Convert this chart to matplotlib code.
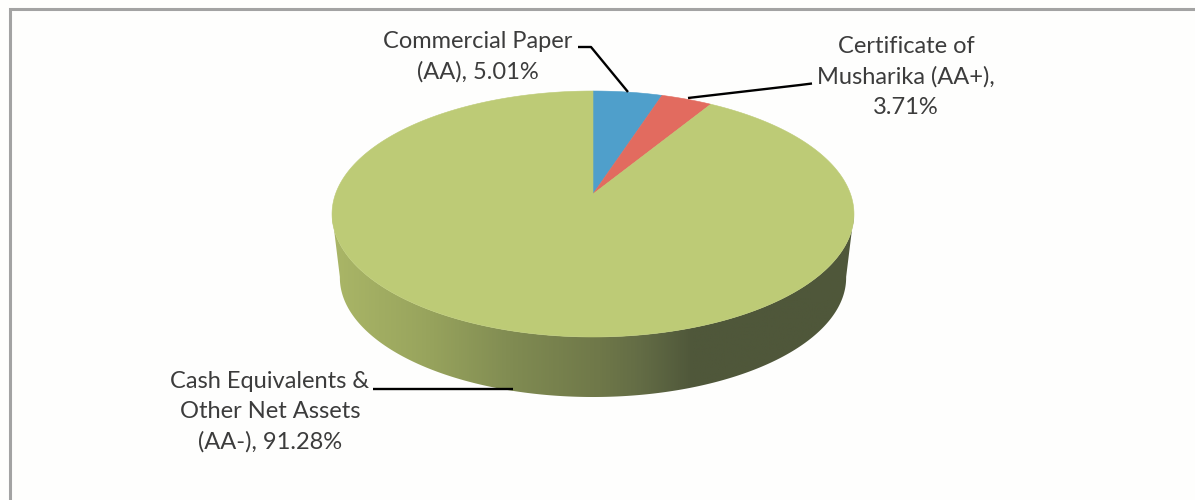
import numpy as np
import matplotlib
matplotlib.use('Agg')
import matplotlib.pyplot as plt
from matplotlib.colors import LinearSegmentedColormap
from matplotlib.patches import Polygon

plt.rcParams['font.family'] = ['Lato', 'DejaVu Sans']

#portfolio shares in %
labels = ['Commercial Paper\n(AA), 5.01%',
          'Certificate of\nMusharika (AA+),\n3.71%',
          'Cash Equivalents &\nOther Net Assets\n(AA-), 91.28%']
shares = [5.01, 3.71, 91.28]
colors = ['#4f9fcb', '#e26b5f', '#bdcb76']

#pie geometry in pixels, top face seen in perspective
cx = 593
apex_y = 194
half_w = 257.5
tilt = 0.1626
far = -88.2
#bottom face is a bit smaller and lower
bottom_scale = 0.97
bottom_mid = 277.7
top_mid = 214

bg = '#fefefd'


def top_face(theta):
    #theta is clockwise from 12 o'clock, radians
    u, v = np.sin(theta), np.cos(theta)
    w = 1 + tilt * v
    return cx + half_w * u / w, (apex_y + far * v) / w


def bottom_face(theta):
    x, y = top_face(theta)
    return cx + (x - cx) * bottom_scale, bottom_mid + (y - top_mid) * bottom_scale


fig = plt.figure(figsize=(11.95, 5), dpi=100, facecolor=bg)
ax = fig.add_axes([0, 0, 1, 1])
ax.set_xlim(0, 1195)
ax.set_ylim(500, 0)
ax.axis('off')

#frame, only left and top are visible
ax.plot([10, 10, 1195], [500, 9, 9], color='#a3a3a3', lw=2.2, solid_joinstyle='miter', zorder=1)

#side of the pie, shaded from left to right
front = np.linspace(np.pi * 0.55, np.pi * 1.45, 300)
tx, ty = top_face(front)
bx, by = bottom_face(front)
side = Polygon(np.r_[np.c_[tx, ty], np.c_[bx, by][::-1]], closed=True, fc='none', ec='none')
ax.add_patch(side)
shade = LinearSegmentedColormap.from_list('side', [
    (0.0, '#aab667'), (0.18, '#98a45d'), (0.345, '#808b52'), (0.51, '#6f7849'),
    (0.59, '#636c45'), (0.69, '#4f573a'), (1.0, '#4f573a')])
img = ax.imshow(np.linspace(0, 1, 512)[None, :], extent=(332, 856, 400, 200), cmap=shade,
                aspect='auto', zorder=2)
img.set_clip_path(side)
ax.set_xlim(0, 1195)
ax.set_ylim(500, 0)

#slices on top, clockwise from 12 o'clock
edges = np.r_[0, np.cumsum(shares)] / np.sum(shares) * 2 * np.pi
for i in range(len(shares)):
    th = np.linspace(edges[i], edges[i + 1], 400)
    x, y = top_face(th)
    pts = np.r_[[[cx, apex_y]], np.c_[x, y]]
    ax.add_patch(Polygon(pts, closed=True, fc=colors[i], ec=colors[i], lw=0.4, zorder=3))

#leader lines
leaders = [([578, 591, 628], [47, 47, 92]),
           ([688, 800, 812], [98, 85, 83.5]),
           ([373, 513], [389, 389])]
for lx, ly in leaders:
    ax.plot(lx, ly, color='black', lw=1.7, solid_capstyle='butt', zorder=4)

label_pos = [(478, 57), (906, 77), (270, 412)]
for txt, (px, py) in zip(labels, label_pos):
    ax.text(px, py, txt, ha='center', va='center', fontsize=17, color='#3c3c3c',
            linespacing=1.53, zorder=5)

fig.savefig('out.png', dpi=100, facecolor=bg)
